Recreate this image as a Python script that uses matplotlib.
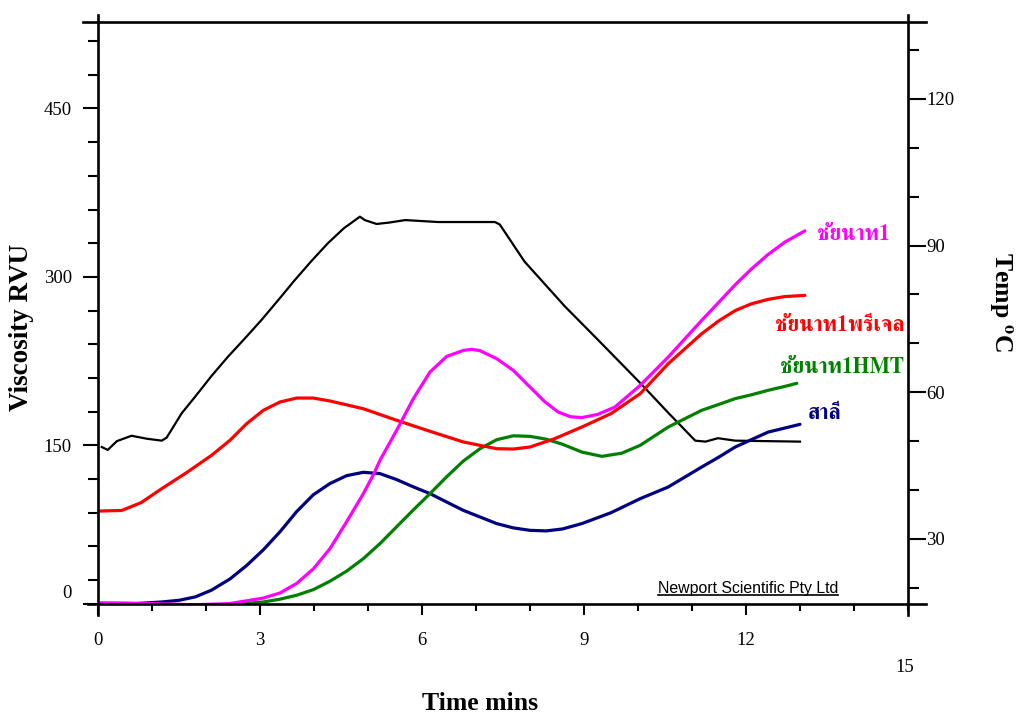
import numpy as np
import matplotlib
matplotlib.use("Agg")
import matplotlib.pyplot as plt
from matplotlib import font_manager
from matplotlib.ft2font import FT2Font
from matplotlib.lines import Line2D
from matplotlib.transforms import IdentityTransform

# Pasting curves: time (min) and viscosity (RVU)
t_chainat = [0.05, 0.5, 1.0, 1.8, 2.444, 3.062, 3.37, 3.679, 3.988, 4.296, 4.605, 4.914,
             5.11, 5.222, 5.531, 5.84, 6.148, 6.457, 6.765, 6.92, 7.074, 7.383, 7.69, 8.0,
             8.27, 8.52, 8.75, 8.96, 9.25, 9.57, 10.04, 10.56, 11.18, 11.5, 11.8, 12.1,
             12.41, 12.72, 13.09]
v_chainat = [9.5, 9.5, 9.0, 8.0, 9.1, 14.0, 18.5, 27, 40, 58, 82, 107,
             124.8, 136.7, 163.4, 191.6, 215.3, 229.2, 234.5, 235.5, 234.3, 227.2, 216.8, 201.9,
             189, 179.7, 175.5, 174.7, 177.5, 184, 203.4, 228.6, 261.3, 277.6, 293, 307,
             320, 331, 341]

t_pregel = [0.04, 0.44, 0.8, 1.18, 1.65, 2.1, 2.444, 2.753, 3.062, 3.37, 3.679, 3.988,
            4.296, 4.914, 5.531, 6.148, 6.765, 7.383, 7.69, 8.0, 8.46, 8.96, 9.5, 10.04,
            10.56, 11.18, 11.5, 11.8, 12.1, 12.41, 12.72, 13.09]
v_pregel = [91.5, 92, 99, 111.4, 126, 141, 154.5, 169.3, 181.2, 188.6, 192.1, 192.1,
            189.5, 182.6, 172.3, 162.5, 153, 147, 146.7, 148.5, 156, 166.3, 178.2, 196,
            222.7, 249.4, 261, 270, 276, 280, 282.5, 283.5]

t_hmt = [0.05, 0.5, 1.0, 1.5, 2.0, 2.444, 3.062, 3.37, 3.679, 3.988, 4.296, 4.605, 4.914,
         5.222, 5.531, 5.84, 6.148, 6.457, 6.765, 7.074, 7.383, 7.69, 8.0, 8.3, 8.6, 8.96,
         9.33, 9.7, 10.04, 10.56, 11.18, 11.5, 11.8, 12.1, 12.41, 12.72, 12.94]
v_hmt = [9.5, 9.2, 8.8, 8.2, 7.8, 8.0, 10.5, 13, 16.5, 21.5, 29, 38, 49.1,
         62.5, 77.5, 92.5, 107, 122, 136, 147, 155, 158.5, 158, 155.5, 151, 144,
         140.2, 143, 150, 166.3, 181.2, 186.5, 191.6, 195, 199, 202.5, 205.2]

t_wheat = [0.0, 0.5, 1.18, 1.5, 1.8, 2.1, 2.444, 2.753, 3.062, 3.37, 3.679, 3.988, 4.296,
           4.605, 4.914, 5.222, 5.531, 5.84, 6.148, 6.457, 6.765, 7.074, 7.383, 7.69, 8.0,
           8.3, 8.6, 8.96, 9.5, 10.04, 10.56, 11.18, 11.5, 11.8, 12.41, 12.72, 13.0]
v_wheat = [9.0, 8.5, 10.5, 12, 15, 21, 31, 43, 57, 73, 91, 106, 116,
           123, 126, 124.8, 119.5, 113, 107, 99.5, 92.1, 86.2, 80.3, 76.5, 74.3,
           73.8, 75.5, 80.3, 90, 102.5, 112.9, 130.7, 139.6, 148.5, 161.8, 165.4, 168.7]

# Temperature profile (deg C)
t_temp = [0.07, 0.18, 0.35, 0.62, 0.9, 1.18, 1.27, 1.36, 1.55, 1.8, 2.1, 2.41, 2.72,
          3.03, 3.35, 3.65, 3.95, 4.26, 4.55, 4.85, 4.94, 5.16, 5.4, 5.69, 6.3, 7.35,
          7.44, 7.9, 8.65, 9.26, 10.04, 10.56, 11.06, 11.25, 11.48, 11.8, 12.4, 13.0]
temp = [48.8, 48.2, 50.0, 51.1, 50.5, 50.1, 50.7, 52.3, 55.7, 59.1, 63.3, 67.3, 71.0,
        74.8, 79.0, 83.0, 86.8, 90.5, 93.5, 95.9, 95.2, 94.4, 94.7, 95.2, 94.8, 94.8,
        94.3, 86.7, 77.5, 70.7, 61.9, 55.8, 50.1, 49.9, 50.6, 50.1, 50.0, 49.9]

names = ["ชัยนาท1", "ชัยนาท1พรีเจล", "ชัยนาท1HMT", "สาลี"]
colors = ["#ff00ff", "#ff0000", "#008000", "#000080"]

visc_ticks = [150, 300, 450]
temp_ticks = [30, 60, 90, 120]
time_ticks = [0, 3, 6, 9, 12]


def find_thai_font():
    best = None
    for f in font_manager.fontManager.ttflist:
        try:
            cmap = FT2Font(f.fname).get_charmap()
        except Exception:
            continue
        if 0x0E0A in cmap and 0x0E31 in cmap:
            score = 0
            if f.weight in ("bold", 700) or str(f.weight) == "700":
                score += 2
            if "serif" in f.name.lower() and "sans" not in f.name.lower():
                score += 1
            if best is None or score > best[0]:
                best = (score, f.name)
    return best[1] if best else None


thai = find_thai_font()
label_family = [thai, "DejaVu Sans"] if thai else ["DejaVu Sans"]

plt.rcParams["font.family"] = "Liberation Serif"
plt.rcParams["mathtext.fontset"] = "stix"

W, H = 1018, 715
fig = plt.figure(figsize=(W / 100, H / 100), dpi=100)
ax = fig.add_axes([98 / W, 1 - 604 / H, 810 / W, 582 / H])
ax2 = ax.twinx()

vmin, vmax = 8.7, 527
ax.set_xlim(0, 15)
ax.set_ylim(vmin, vmax)
ax2.set_ylim(16.7, 135.7)

series = [(t_chainat, v_chainat), (t_pregel, v_pregel), (t_hmt, v_hmt), (t_wheat, v_wheat)]
for (tt, vv), c in zip(series[::-1], colors[::-1]):
    ax.plot(tt, vv, color=c, lw=2.3, solid_capstyle="round", solid_joinstyle="round", zorder=3)
ax2.plot(t_temp, temp, color="black", lw=1.6, solid_joinstyle="round", zorder=2)
ax.set_zorder(ax2.get_zorder() + 1)
ax.patch.set_visible(False)

for a in (ax, ax2):
    for s in a.spines.values():
        s.set_visible(False)

# left axis ticks
ax.set_yticks([vmin] + visc_ticks)
ax.set_yticklabels([""] + [str(v) for v in visc_ticks], fontsize=13.5)
ax.set_yticks(np.arange(30, vmax, 30), minor=True)
ax.tick_params(axis="y", which="major", direction="out", length=10.8, width=1.5, pad=8)
ax.tick_params(axis="y", which="minor", direction="out", length=7.2, width=1.5)

# bottom axis ticks
ax.set_xticks(time_ticks)
ax.set_xticklabels([str(v) for v in time_ticks], fontsize=13.5)
ax.set_xticks(np.arange(0, 16, 1), minor=True)
ax.tick_params(axis="x", which="major", direction="out", length=8, width=1.5, pad=12)
ax.tick_params(axis="x", which="minor", direction="out", length=5, width=1.5)

# right axis ticks
ax2.set_yticks(temp_ticks)
ax2.set_yticklabels([str(v) for v in temp_ticks], fontsize=13.5)
ax2.set_yticks(np.arange(20, 136, 10), minor=True)
ax2.tick_params(axis="y", which="major", direction="out", length=13, width=1.5, pad=0)
ax2.tick_params(axis="y", which="minor", direction="out", length=8, width=1.5)

# frame lines drawn in pixels so they overshoot the corners
x0, y0 = 98, H - 604
x1, y1 = 908, H - 22
frame = [
    ([x0 - 15, x1 + 18], [y1, y1]),
    ([x0 - 10, x1 + 18], [y0, y0]),
    ([x0, x0], [y0 - 11, y1 + 7]),
    ([x1, x1], [y0 - 11, y1 + 7]),
]
for xs, ys in frame:
    fig.add_artist(Line2D(xs, ys, transform=IdentityTransform(), color="black", lw=1.9))

fig.text(72 / W, 1 - 593 / H, "0", ha="right", va="center", fontsize=13.5)
fig.text(905 / W, 1 - 667 / H, "15", ha="center", va="center", fontsize=13.5)

fig.text(22 / W, 1 - 327 / H, "Viscosity RVU", rotation=90, ha="center", va="center",
         fontsize=19.5, fontweight="bold")
fig.text(480 / W, 1 - 703 / H, "Time mins", ha="center", va="center",
         fontsize=18.5, fontweight="bold")
fig.text(1000 / W, 1 - 302 / H, r"Temp $^{\mathbf{o}}$C", rotation=-90, ha="center",
         va="center", fontsize=18.5, fontweight="bold")

# curve names at the end of each trace
label_pos = [(817, 235), (775, 325), (780, 368), (808, 413)]
for name, c, (px, py) in zip(names, colors, label_pos):
    fig.text(px / W, 1 - py / H, name, color=c, ha="left", va="center",
             fontsize=15.5, fontweight="bold", family=label_family)

credit = fig.text(658 / W, 1 - 588 / H, "Newport Scientific Pty Ltd", ha="left",
                  va="center", fontsize=11.4, family="Liberation Sans")
fig.canvas.draw()
bb = credit.get_window_extent()
fig.add_artist(Line2D([bb.x0, bb.x1], [bb.y0 + 1, bb.y0 + 1], transform=IdentityTransform(),
                      color="black", lw=1.2))

fig.savefig("out.png", dpi=100)
